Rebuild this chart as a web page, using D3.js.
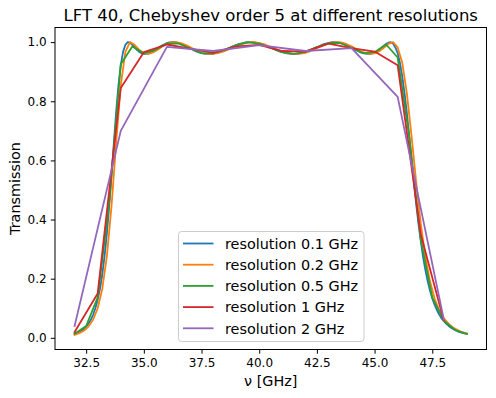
<!DOCTYPE html>
<html>
<head>
<meta charset="utf-8">
<script src="https://cdn.jsdelivr.net/npm/d3@7"></script>
<style>
  html, body { margin: 0; padding: 0; background: #ffffff; }
  svg text   { font-family: "DejaVu Sans", sans-serif; fill: #000000; }
</style>
</head>
<body>
<script>

// ---- data ------------------------------------------------------------------
var freqStart    = 32.0;                         // GHz, first sample of every series
var resolutions  = [0.1, 0.2, 0.5, 1, 2];        // GHz step of each series
var seriesNames  = ["resolution 0.1 GHz", "resolution 0.2 GHz", "resolution 0.5 GHz",
                    "resolution 1 GHz", "resolution 2 GHz"];
var seriesColors = ["#1f77b4", "#ff7f0e", "#2ca02c", "#d62728", "#9467bd"];

// 32.0 .. 49.0 GHz, every 0.1 GHz
var trans01 = [
    0.013, 0.016, 0.019, 0.024, 0.030, 0.038, 0.048, 0.061, 0.078, 0.100,
    0.129, 0.166, 0.215, 0.277, 0.354, 0.446, 0.550, 0.659, 0.764, 0.854,
    0.922, 0.967, 0.991, 1.000, 0.998, 0.991, 0.983, 0.974, 0.967, 0.963,
    0.960, 0.960, 0.961, 0.965, 0.969, 0.974, 0.979, 0.985, 0.989, 0.993,
    0.997, 0.999, 1.000, 1.000, 0.999, 0.997, 0.994, 0.991, 0.987, 0.983,
    0.979, 0.975, 0.971, 0.968, 0.965, 0.963, 0.961, 0.960, 0.960, 0.960,
    0.961, 0.963, 0.965, 0.967, 0.970, 0.973, 0.977, 0.980, 0.984, 0.987,
    0.990, 0.993, 0.995, 0.997, 0.999, 1.000, 1.000, 1.000, 0.999, 0.997,
    0.996, 0.993, 0.991, 0.987, 0.984, 0.981, 0.978, 0.974, 0.971, 0.968,
    0.966, 0.964, 0.962, 0.961, 0.960, 0.960, 0.960, 0.961, 0.963, 0.964,
    0.967, 0.969, 0.973, 0.976, 0.980, 0.983, 0.986, 0.990, 0.993, 0.995,
    0.997, 0.999, 1.000, 1.000, 0.999, 0.998, 0.995, 0.993, 0.989, 0.986,
    0.982, 0.977, 0.973, 0.969, 0.965, 0.963, 0.961, 0.960, 0.960, 0.962,
    0.965, 0.969, 0.975, 0.981, 0.988, 0.994, 0.998, 1.000, 0.995, 0.982,
    0.963, 0.930, 0.883, 0.826, 0.760, 0.684, 0.606, 0.528, 0.454, 0.387,
    0.328, 0.274, 0.230, 0.192, 0.160, 0.133, 0.112, 0.094, 0.079, 0.066,
    0.057, 0.048, 0.041, 0.035, 0.030, 0.026, 0.022, 0.019, 0.017, 0.015,
    0.013
];

// 32.0 .. 49.0 GHz, every 0.2 GHz
var trans02 = [
    0.010, 0.016, 0.024, 0.038, 0.061, 0.100, 0.166, 0.277, 0.446, 0.659,
    0.854, 0.967, 1.000, 0.991, 0.974, 0.963, 0.960, 0.965, 0.974, 0.985,
    0.993, 0.999, 1.000, 0.997, 0.991, 0.983, 0.975, 0.968, 0.963, 0.960,
    0.960, 0.963, 0.967, 0.973, 0.980, 0.987, 0.993, 0.997, 1.000, 1.000,
    0.997, 0.993, 0.987, 0.981, 0.974, 0.968, 0.964, 0.961, 0.960, 0.961,
    0.964, 0.969, 0.976, 0.983, 0.990, 0.995, 0.999, 1.000, 0.998, 0.993,
    0.986, 0.977, 0.969, 0.963, 0.960, 0.962, 0.969, 0.981, 0.994, 1.000,
    0.982, 0.930, 0.826, 0.684, 0.528, 0.387, 0.274, 0.192, 0.133, 0.094,
    0.066, 0.048, 0.035, 0.026, 0.019, 0.015
];

// 32.0 .. 49.0 GHz, every 0.5 GHz
var trans05 = [
    0.014, 0.040, 0.137, 0.457, 0.925, 0.985, 0.962, 0.974, 0.995, 0.996,
    0.979, 0.963, 0.962, 0.974, 0.990, 0.999, 0.995, 0.981, 0.966, 0.960,
    0.967, 0.983, 0.997, 0.997, 0.981, 0.963, 0.966, 0.992, 0.948, 0.682,
    0.333, 0.137, 0.058, 0.026, 0.013
];

// 32 .. 48 GHz, every 1 GHz
var trans1 = [
    0.020, 0.150, 0.845, 0.966, 0.992, 0.978, 0.964, 0.986, 0.991,
    0.970, 0.968, 0.995, 0.980, 0.968, 0.922, 0.350, 0.058
];

// 32 .. 48 GHz, every 2 GHz
var trans2 = [0.040, 0.700, 0.984, 0.970, 0.990, 0.970, 0.980, 0.815, 0.062];

var xTicks = [32.5, 35.0, 37.5, 40.0, 42.5, 45.0, 47.5];
var yTicks = [0.0, 0.2, 0.4, 0.6, 0.8, 1.0];

var titleText  = "LFT 40, Chebyshev order 5 at different resolutions";
var xLabelText = "\u03bd [GHz]";
var yLabelText = "Transmission";

// ---- drawing ----------------------------------------------------------------
function C_chart(d) {

    var self        = this;

    this.width      = d.width;
    this.height     = d.height;
    this.left       = 55;
    this.right      = 486.5;
    this.top        = 27.5;
    this.bottom     = 349.5;

    this.svg        = d3.select("body").append("svg")
        .attr("width",  self.width)
        .attr("height", self.height);

    // every series as a list of {f, t}
    this.series     = [trans01, trans02, trans05, trans1, trans2].map(function(vals, i) {
        return vals.map(function(v, k) {
            return { f: freqStart + k * resolutions[i], t: v };
        });
    });

    this.scales_build   = function() {
        var all  = d3.merge(self.series);
        var fExt = d3.extent(all, function(p) { return p.f; });
        var tExt = d3.extent(all, function(p) { return p.t; });
        var fPad = (fExt[1] - fExt[0]) * 0.05;     // matplotlib default margins
        var tPad = (tExt[1] - tExt[0]) * 0.05;
        self.x   = d3.scaleLinear()
            .domain([fExt[0] - fPad, fExt[1] + fPad])
            .range([self.left, self.right]);
        self.y   = d3.scaleLinear()
            .domain([tExt[0] - tPad, tExt[1] + tPad])
            .range([self.bottom, self.top]);
    };

    this.axes_draw      = function() {
        var xAxis = d3.axisBottom(self.x)
            .tickValues(xTicks)
            .tickSize(4.2)
            .tickPadding(4.4)
            .tickFormat(d3.format(".1f"));
        var yAxis = d3.axisLeft(self.y)
            .tickValues(yTicks)
            .tickSize(4.2)
            .tickPadding(4.2)
            .tickFormat(d3.format(".1f"));

        var gx = self.svg.append("g")
            .attr("transform", "translate(0," + self.bottom + ")")
            .call(xAxis);
        var gy = self.svg.append("g")
            .attr("transform", "translate(" + self.left + ",0)")
            .call(yAxis);

        [gx, gy].forEach(function(g) {
            g.select(".domain").remove();
            g.selectAll(".tick line").attr("stroke", "#000").attr("stroke-width", 1);
            g.selectAll(".tick text")
                .style("font-family", "DejaVu Sans")
                .style("font-size", "12px")
                .attr("fill", "#000");
        });
    };

    this.frame_draw     = function() {
        self.svg.append("rect")
            .attr("x", self.left)
            .attr("y", self.top)
            .attr("width",  self.right - self.left)
            .attr("height", self.bottom - self.top)
            .attr("fill", "none")
            .attr("stroke", "#000")
            .attr("stroke-width", 1);
    };

    this.lines_draw     = function() {
        var line = d3.line()
            .x(function(p) { return self.x(p.f); })
            .y(function(p) { return self.y(p.t); });

        self.series.forEach(function(pts, i) {
            self.svg.append("path")
                .datum(pts)
                .attr("d", line)
                .attr("fill", "none")
                .attr("stroke", seriesColors[i])
                .attr("stroke-width", 1.8)
                .attr("stroke-linejoin", "round")
                .attr("stroke-linecap", "square");
        });
    };

    this.labels_draw    = function() {
        // title is a bit larger than the other texts
        self.svg.append("text")
            .attr("x", (self.left + self.right) / 2)
            .attr("y", 20.5)
            .attr("text-anchor", "middle")
            .style("font-size", "16.5px")
            .text(titleText);

        self.svg.append("text")
            .attr("x", (self.left + self.right) / 2)
            .attr("y", 386)
            .attr("text-anchor", "middle")
            .style("font-size", "14.4px")
            .text(xLabelText);

        self.svg.append("text")
            .attr("transform", "translate(20," + ((self.top + self.bottom) / 2) + ") rotate(-90)")
            .attr("text-anchor", "middle")
            .style("font-size", "14.4px")
            .text(yLabelText);
    };

    this.legend_draw    = function() {
        var lx = 178.5, ly = 231.5, lw = 185.5, lh = 110;
        var g  = self.svg.append("g");

        g.append("rect")
            .attr("x", lx).attr("y", ly)
            .attr("width", lw).attr("height", lh)
            .attr("rx", 3).attr("ry", 3)
            .attr("fill", "#ffffff").attr("fill-opacity", 0.8)
            .attr("stroke", "#cccccc").attr("stroke-width", 1);

        seriesNames.forEach(function(name, i) {
            var cy = ly + 12 + i * 21.2;
            g.append("line")
                .attr("x1", lx + 4.5).attr("x2", lx + 35)
                .attr("y1", cy).attr("y2", cy)
                .attr("stroke", seriesColors[i])
                .attr("stroke-width", 1.8);
            g.append("text")
                .attr("x", lx + 46.5)
                .attr("y", cy + 5.2)
                .style("font-size", "14.4px")
                .text(name);
        });
    };
}

window.onload = function() {
    var d       = {};
    d.width     = 496;
    d.height    = 398;

    var chart   = new C_chart(d);
    chart.scales_build();
    chart.lines_draw();
    chart.axes_draw();
    chart.frame_draw();
    chart.labels_draw();
    chart.legend_draw();
};

</script>
</body>
</html>
